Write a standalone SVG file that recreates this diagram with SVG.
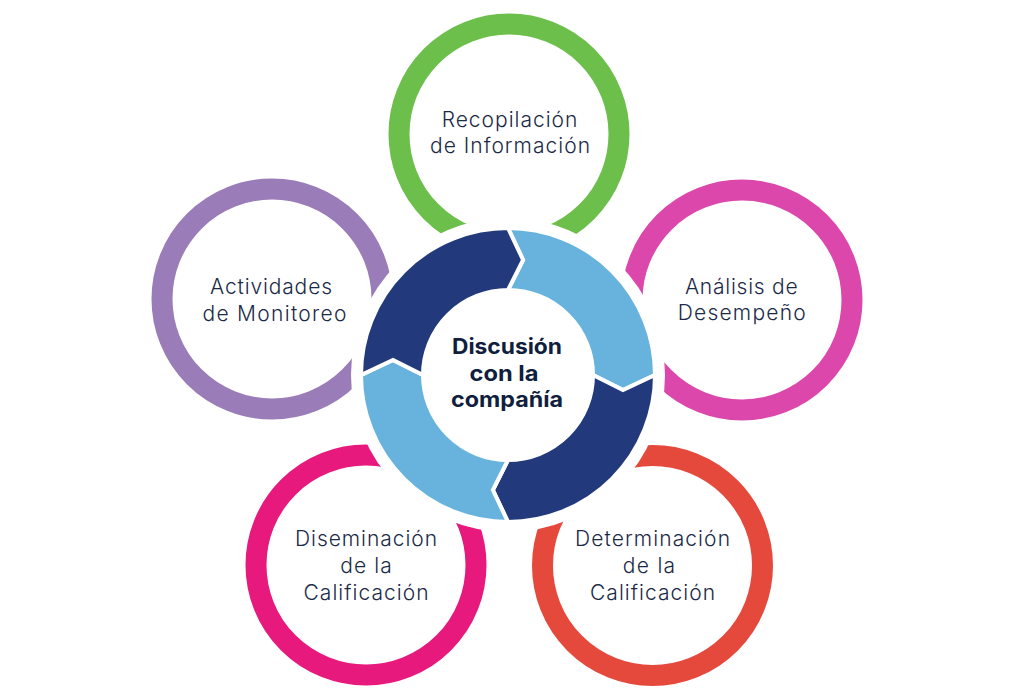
<svg xmlns="http://www.w3.org/2000/svg" width="1015" height="700" viewBox="0 0 1015 700">
<style>
.ring{fill:none;stroke-width:21}
.lbl{font-family:Inter,"Liberation Sans",sans-serif;font-weight:300;font-size:21px;fill:#1b2a47;text-anchor:middle}
.ctr{font-family:Inter,"Liberation Sans",sans-serif;font-weight:700;font-size:21px;fill:#0f1f3d;text-anchor:middle}
.seg{stroke:#ffffff;stroke-width:4;stroke-linejoin:miter}
.dark{fill:#223a7b}
.light{fill:#68b3de}
</style>
<rect width="1015" height="700" fill="#ffffff"/>
<g id="node-recopilacion">
<circle class="ring" cx="509" cy="134" r="110" stroke="#6cbf4a"/>
</g>
<g id="node-actividades">
<circle class="ring" cx="272" cy="299" r="110" stroke="#9a7db8"/>
</g>
<g id="node-analisis">
<circle class="ring" cx="742" cy="300" r="110" stroke="#dc47ac"/>
</g>
<g id="node-diseminacion">
<circle class="ring" cx="366" cy="565" r="110" stroke="#e8197c"/>
</g>
<g id="node-determinacion">
<circle class="ring" cx="652.5" cy="565.5" r="110" stroke="#e5493c"/>
</g>
<circle cx="508" cy="375" r="157" fill="#ffffff"/>
<g id="node-discusion">
<path class="seg light" d="M508,228 A147,147 0 0 1 655,375 L623,390.1 L593,375 A85,85 0 0 0 508,290 L523.1,260 Z"/>
<path class="seg dark" d="M655,375 A147,147 0 0 1 508,522 L492.9,490 L508,460 A85,85 0 0 0 593,375 L623,390.1 Z"/>
<path class="seg light" d="M508,522 A147,147 0 0 1 361,375 L393,359.9 L423,375 A85,85 0 0 0 508,460 L492.9,490 Z"/>
<path class="seg dark" d="M361,375 A147,147 0 0 1 508,228 L523.1,260 L508,290 A85,85 0 0 0 423,375 L393,359.9 Z"/>
<text class="ctr" x="507" y="354" textLength="110" lengthAdjust="spacingAndGlyphs">Discusión</text>
<text class="ctr" x="504" y="381" textLength="69" lengthAdjust="spacingAndGlyphs">con la</text>
<text class="ctr" x="507" y="407" textLength="112" lengthAdjust="spacingAndGlyphs">compañía</text>
</g>
<g id="labels">
<text class="lbl" x="509.5" y="127" textLength="135.6">Recopilación</text>
<text class="lbl" x="510" y="153" textLength="160">de Información</text>
<text class="lbl" x="271" y="294" textLength="122">Actividades</text>
<text class="lbl" x="274.5" y="321" textLength="144">de Monitoreo</text>
<text class="lbl" x="741.3" y="294" textLength="112.7">Análisis de</text>
<text class="lbl" x="741.7" y="320" textLength="128">Desempeño</text>
<text class="lbl" x="366" y="546" textLength="142">Diseminación</text>
<text class="lbl" x="366" y="573" textLength="51.7">de la</text>
<text class="lbl" x="366" y="600" textLength="125">Calificación</text>
<text class="lbl" x="652.5" y="546" textLength="155">Determinación</text>
<text class="lbl" x="649" y="573" textLength="52.3">de la</text>
<text class="lbl" x="652.5" y="600" textLength="125">Calificación</text>
</g>
<g id="connectors"/>
</svg>
